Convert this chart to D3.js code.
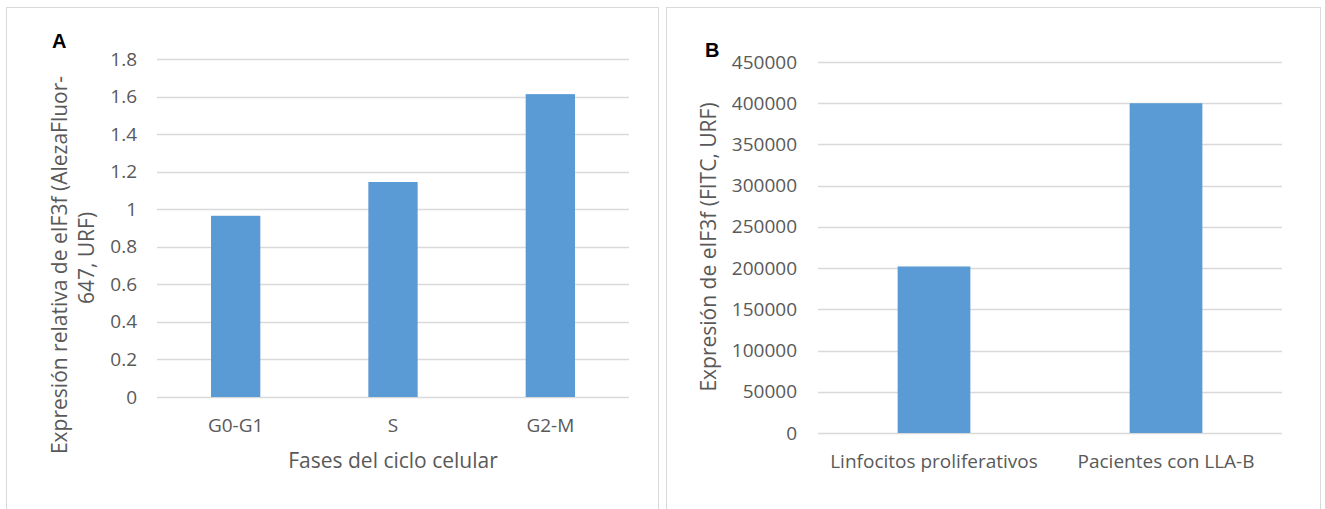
<!DOCTYPE html>
<html>
<head>
<meta charset="utf-8">
<script src="https://cdn.jsdelivr.net/npm/d3@7"></script>
<style>
  html, body { margin: 0; padding: 0; background: #fff; }
  svg text { font-family: "Open Sans", "Noto Sans", sans-serif; fill: #595959; }
</style>
</head>
<body>
<svg id="chart" width="1325" height="509"></svg>
<script>
// Panel A: relative eIF3f expression by cell-cycle phase
const phases = ["G0-G1", "S", "G2-M"];
const phaseValues = [0.965, 1.145, 1.613];
const ticksA = [0, 0.2, 0.4, 0.6, 0.8, 1, 1.2, 1.4, 1.6, 1.8];

// Panel B: eIF3f expression (FITC) by group
const groups = ["Linfocitos proliferativos", "Pacientes con LLA-B"];
const groupValues = [202000, 400000];
const ticksB = [0, 50000, 100000, 150000, 200000, 250000, 300000, 350000, 400000, 450000];

const svg = d3.select("#chart");
const barColor = "#5b9bd5";
const gridColor = "#d9d9d9";
const labelSize = 19;
const titleSize = 21;
const fontStack = '"Open Sans", "Noto Sans", sans-serif';

function drawPanel(opt) {
  const g = svg.append("g");

  // chart frame
  g.append("rect")
    .attr("x", opt.frame[0] + 0.5).attr("y", opt.frame[1] + 0.5)
    .attr("width", opt.frame[2]).attr("height", opt.frame[3])
    .attr("fill", "#fff").attr("stroke", gridColor).attr("stroke-width", 1);

  const x = d3.scaleBand()
    .domain(opt.categories)
    .range([opt.left, opt.right])
    .paddingInner(0.6865)
    .paddingOuter(0.34325);

  const y = d3.scaleLinear()
    .domain([0, opt.ticks[opt.ticks.length - 1]])
    .range([opt.bottom, opt.top]);

  // gridlines
  g.append("g").selectAll("line")
    .data(opt.ticks)
    .join("line")
    .attr("x1", opt.left).attr("x2", opt.right)
    .attr("y1", d => Math.round(y(d)) + 0.5).attr("y2", d => Math.round(y(d)) + 0.5)
    .attr("stroke", gridColor).attr("stroke-width", 1.3);

  // y tick labels
  const yAxis = d3.axisLeft(y)
    .tickValues(opt.ticks)
    .tickFormat(opt.format)
    .tickSize(0)
    .tickPadding(opt.tickPad);
  const ya = g.append("g").attr("transform", `translate(${opt.left},0)`).call(yAxis);
  ya.select(".domain").remove();
  ya.selectAll("text").attr("font-size", labelSize).attr("fill", "#595959")
    .style("font-family", fontStack);

  // bars
  g.append("g").selectAll("rect")
    .data(opt.values)
    .join("rect")
    .attr("x", (d, i) => x(opt.categories[i]))
    .attr("width", x.bandwidth())
    .attr("y", d => y(d))
    .attr("height", d => y(0) - y(d))
    .attr("fill", barColor);

  // x category labels
  const xAxis = d3.axisBottom(x).tickSize(0).tickPadding(0);
  const xa = g.append("g").attr("transform", `translate(0,${opt.bottom})`).call(xAxis);
  xa.select(".domain").remove();
  xa.selectAll("text")
    .attr("y", opt.xLabelBaseline).attr("dy", null)
    .attr("font-size", labelSize).attr("fill", "#595959")
    .style("font-family", fontStack);

  // axis titles
  if (opt.xTitle) {
    g.append("text")
      .attr("x", (opt.left + opt.right) / 2).attr("y", opt.xTitleY)
      .attr("text-anchor", "middle").attr("font-size", titleSize)
      .text(opt.xTitle);
  }
  opt.yTitle.forEach(t => {
    g.append("text")
      .attr("transform", `translate(${t.x},${t.cy}) rotate(-90)`)
      .attr("text-anchor", "middle").attr("font-size", titleSize)
      .text(t.text);
  });

  // panel letter
  g.append("text")
    .attr("x", opt.letter[1]).attr("y", opt.letter[2])
    .attr("font-size", 20).attr("font-weight", "bold")
    .style("fill", "#000")
    .style("font-family", '"Liberation Sans", Arial, sans-serif')
    .text(opt.letter[0]);
}

drawPanel({
  frame: [6, 7, 652, 520],
  categories: phases, values: phaseValues, ticks: ticksA,
  format: d => String(+d.toFixed(1)),
  left: 157, right: 629, top: 59, bottom: 397,
  tickPad: 20, xLabelBaseline: 35,
  xTitle: "Fases del ciclo celular", xTitleY: 468,
  yTitle: [
    { text: "Expresión relativa de eIF3f (AlezaFluor-", x: 67, cy: 265 },
    { text: "647, URF)", x: 94, cy: 258 }
  ],
  letter: ["A", 52, 48]
});

drawPanel({
  frame: [666, 7, 654, 520],
  categories: groups, values: groupValues, ticks: ticksB,
  format: d => String(d),
  left: 818, right: 1282, top: 62, bottom: 433,
  tickPad: 21, xLabelBaseline: 35,
  xTitle: null,
  yTitle: [
    { text: "Expresión de eIF3f (FITC, URF)", x: 716, cy: 247 }
  ],
  letter: ["B", 705, 57]
});
</script>
</body>
</html>
